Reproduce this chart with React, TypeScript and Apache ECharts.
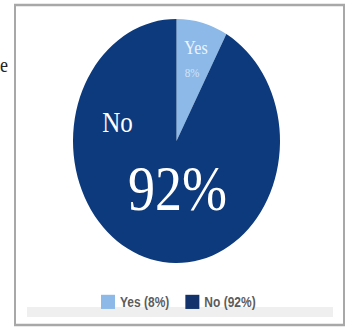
import React, { useEffect, useRef } from "react";
import * as echarts from "echarts";

const categories = ["Yes", "No"];
const values = [8, 92];
const sliceColors = ["#8cb9e8", "#0c3a7c"];
const legendColors = ["#8cb9e8", "#12336c"];

const W = 351;
const H = 329;
const CH = 279; // chart drawn at this height, stretched vertically to H
const S = H / CH;

export default function App() {
  const ref = useRef<HTMLDivElement>(null);
  useEffect(() => {
    if (!ref.current) return;
    const chart = echarts.init(ref.current, null, { renderer: "svg" });
    const pct = values.map((v) => `${v}%`);
    chart.setOption({
      animation: false,
      backgroundColor: "#ffffff",
      legend: {
        data: categories.map((c, i) => ({
          name: c,
          itemStyle: { color: legendColors[i] },
        })),
        formatter: (name: string) => `${name} (${pct[categories.indexOf(name)]})`,
        icon: "rect",
        itemWidth: 14,
        itemHeight: 12,
        itemGap: 16,
        left: 96,
        top: 245,
        textStyle: {
          fontFamily: "Liberation Sans",
          fontWeight: "bold",
          fontSize: 12,
          color: "#5c5c5c",
        },
      },
      graphic: [
        {
          type: "rect",
          shape: { x: 15, y: 4.2, width: 329, height: 271.4 },
          style: { fill: "none", stroke: "#a8a8a8", lineWidth: 2 },
          z: 1,
        },
        {
          type: "rect",
          shape: { x: 27, y: 260.3, width: 306, height: 8.5 },
          style: { fill: "#efefef" },
          z: 1,
        },
        {
          type: "text",
          x: 0,
          y: 55,
          style: {
            text: "e",
            fontFamily: "Liberation Serif",
            fontSize: 18,
            fill: "#222222",
            textVerticalAlign: "middle",
          },
        },
        {
          type: "text",
          x: 196,
          y: 40,
          z: 10,
          style: {
            text: categories[0],
            fontFamily: "Liberation Serif",
            fontSize: 16,
            fill: "#eef4fc",
            textAlign: "center",
            textVerticalAlign: "middle",
          },
        },
        {
          type: "text",
          x: 192,
          y: 61.5,
          z: 10,
          style: {
            text: pct[0],
            fontFamily: "Liberation Serif",
            fontSize: 11,
            fill: "#d4e3f6",
            textAlign: "center",
            textVerticalAlign: "middle",
          },
        },
        {
          type: "text",
          x: 117.5,
          y: 103.5,
          z: 10,
          style: {
            text: categories[1],
            fontFamily: "Liberation Serif",
            fontSize: 25,
            fill: "#ffffff",
            textAlign: "center",
            textVerticalAlign: "middle",
          },
        },
        {
          type: "text",
          x: 177.5,
          y: 160,
          z: 10,
          style: {
            text: pct[1],
            fontFamily: "Liberation Serif",
            fontSize: 54,
            fill: "#ffffff",
            textAlign: "center",
            textVerticalAlign: "middle",
          },
        },
      ],
      series: [
        {
          type: "pie",
          center: [176.5, 119.6],
          radius: [0, 103.5],
          startAngle: 90,
          clockwise: true,
          label: { show: false },
          labelLine: { show: false },
          emphasis: { disabled: true },
          data: categories.map((c, i) => ({
            name: c,
            value: values[i],
            itemStyle: { color: sliceColors[i] },
          })),
        },
      ],
    });
    return () => chart.dispose();
  }, []);
  return (
    <div
      style={{
        position: "absolute",
        left: 0,
        top: 0,
        width: W,
        height: H,
        overflow: "hidden",
        background: "#ffffff",
      }}
    >
      <div
        ref={ref}
        style={{
          width: W,
          height: CH,
          transform: `scaleY(${S})`,
          transformOrigin: "0 0",
        }}
      />
    </div>
  );
}
